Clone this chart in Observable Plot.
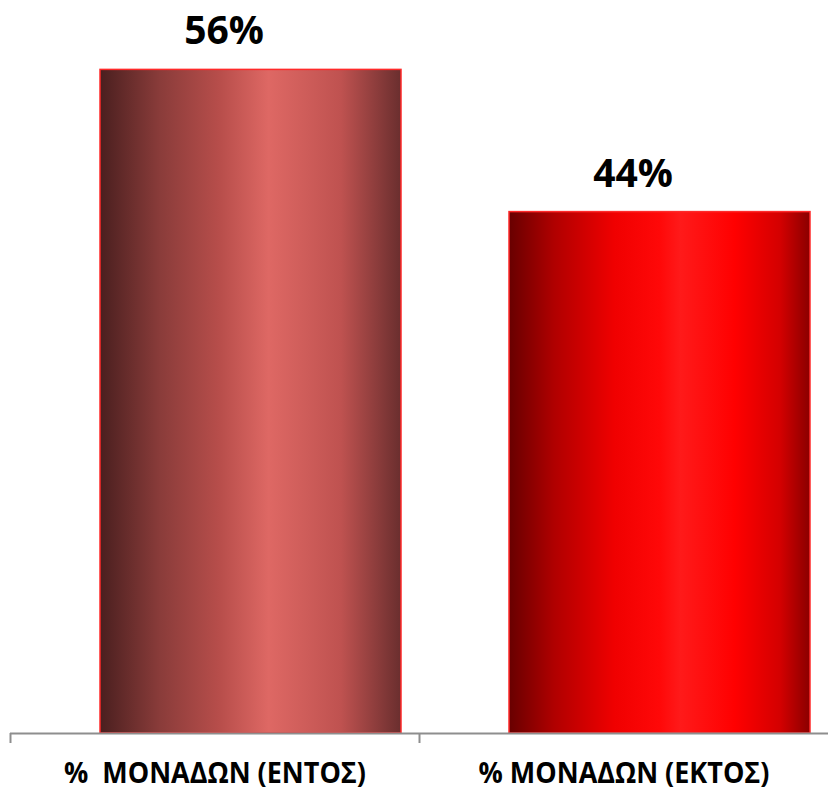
<!DOCTYPE html>
<html>
<head>
<meta charset="utf-8">
<script src="https://cdn.jsdelivr.net/npm/d3@7"></script>
<script src="https://cdn.jsdelivr.net/npm/@observablehq/plot@0.6"></script>
<style>
  html, body { margin: 0; padding: 0; background: #fff; }
  #chart svg { display: block; }
</style>
</head>
<body>
<div id="chart"></div>
<script>
const categories = ["%  ΜΟΝΑΔΩΝ (ΕΝΤΟΣ)", "% ΜΟΝΑΔΩΝ (ΕΚΤΟΣ)"];
const values = [56, 44];
const gradientIds = ["gradEntos", "gradEktos"];

const data = categories.map((c, i) => ({category: c, value: values[i], fill: `url(#${gradientIds[i]})`}));

const W = 828, H = 791;
const yMax = 60;
const marginTop = 22, marginBottom = 58;
const pxPerUnit = (H - marginTop - marginBottom) / yMax;
const tickDepth = -10 / pxPerUnit;
const step = (W - 10) / categories.length;

const chart = Plot.plot({
  width: W,
  height: H,
  marginLeft: 10,
  marginRight: 0,
  marginTop,
  marginBottom,
  style: {fontFamily: "'Open Sans', sans-serif", background: "#fff"},
  x: {domain: categories, padding: 0, label: null},
  y: {domain: [0, yMax], axis: null},
  color: {type: "identity"},
  marks: [
    Plot.barY(data, {
      x: "category", y: "value", fill: "fill",
      insetLeft: 90, insetRight: 18,
      stroke: "#ff2a2a", strokeWidth: 1.5
    }),
    Plot.ruleY([0], {stroke: "#8e8e8e", strokeWidth: 2}),
    Plot.ruleX(categories, {x: d => d, dx: -step / 2, y1: 0, y2: tickDepth, stroke: "#8e8e8e", strokeWidth: 2}),
    Plot.text(data, {
      x: "category", y: "value", text: d => d.value + "%",
      dx: 9, dy: -38, fontSize: 39, fontWeight: 700, fill: "#000"
    }),
    Plot.axisX({tickSize: 0, tickPadding: 29, fontSize: 29, fontWeight: 700, fill: "#000", label: null})
  ]
});

// gradient definitions for cylinder-like shading
const svgNS = "http://www.w3.org/2000/svg";
const defs = document.createElementNS(svgNS, "defs");
const gradStops = {
  gradEntos: [[0, "#4a1f1f"], [0.2, "#8a3c3a"], [0.4, "#b84e4b"], [0.56, "#de6864"], [0.8, "#bf5250"], [1, "#6a2e2e"]],
  gradEktos: [[0, "#680000"], [0.15, "#b00000"], [0.35, "#f00000"], [0.5, "#ff0808"], [0.57, "#ff1a1a"], [0.75, "#ff0000"], [0.9, "#d40000"], [1, "#8a0000"]]
};
for (const id of gradientIds) {
  const g = document.createElementNS(svgNS, "linearGradient");
  g.setAttribute("id", id);
  g.setAttribute("x1", "0"); g.setAttribute("x2", "1");
  g.setAttribute("y1", "0"); g.setAttribute("y2", "0");
  for (const [o, c] of gradStops[id]) {
    const s = document.createElementNS(svgNS, "stop");
    s.setAttribute("offset", o);
    s.setAttribute("stop-color", c);
    g.appendChild(s);
  }
  defs.appendChild(g);
}
chart.insertBefore(defs, chart.firstChild);
document.getElementById("chart").appendChild(chart);

// condense the category labels (reference uses a narrow typeface)
const condense = 0.93;
chart.querySelectorAll("g[aria-label='x-axis tick label'] text").forEach(t => {
  const len = t.getComputedTextLength();
  t.setAttribute("textLength", (len * condense).toFixed(1));
  t.setAttribute("lengthAdjust", "spacingAndGlyphs");
});
</script>
</body>
</html>
